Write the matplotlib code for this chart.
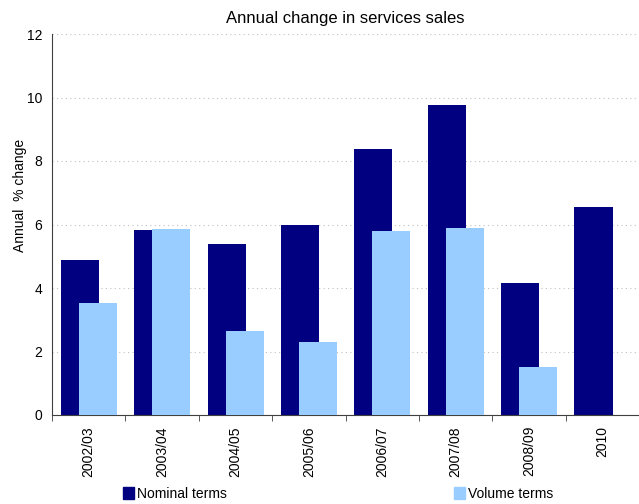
import matplotlib
matplotlib.use("Agg")
import matplotlib.pyplot as plt
import numpy as np
from matplotlib.patches import Patch

categories = ["2002/03", "2003/04", "2004/05", "2005/06", "2006/07", "2007/08", "2008/09", "2010"]
nominal = [4.88, 5.83, 5.39, 5.98, 8.38, 9.76, 4.16, 6.55]
volume = [3.54, 5.86, 2.65, 2.30, 5.80, 5.89, 1.51, np.nan]

plt.rcParams['font.family'] = ['Liberation Sans', 'DejaVu Sans']

fig = plt.figure(figsize=(6.39, 5.04), dpi=100)
ax = fig.add_axes([52/639, 1-415/504, 1-52/639, (415-34)/504])

x = np.arange(len(categories))
w = 0.52
ax.bar(x - 0.12, nominal, width=w, color='#000080', zorder=2, label='Nominal terms')
ax.bar(x + 0.125, volume, width=w, color='#99CCFF', zorder=3, label='Volume terms')

ax.set_xlim(-0.5, len(categories) - 0.5)
ax.set_ylim(0, 12)
ax.set_yticks(range(0, 13, 2))
ax.yaxis.grid(True, linestyle=(0, (1, 3)), color='#c0c0c0', linewidth=0.8, zorder=0)
ax.set_axisbelow(True)

ax.set_xticks(x)
ax.set_xticklabels(categories, rotation=90, fontsize=10)
ax.set_xticks(np.arange(-0.5, len(categories), 1), minor=True)
ax.tick_params(axis='x', which='major', length=0, pad=8)
ax.tick_params(axis='x', which='minor', length=4, color='#404040', direction='out')
ax.tick_params(axis='y', length=0, labelsize=10, pad=7)

for s in ['top', 'right']:
    ax.spines[s].set_visible(False)
ax.spines['left'].set_color('#404040')
ax.spines['bottom'].set_color('#404040')

ax.set_ylabel('Annual  % change', fontsize=10)
ax.yaxis.set_label_coords(-0.043, 0.577)
ax.set_title('Annual change in services sales', fontsize=12, pad=8)

handles = [Patch(color='#000080', label='Nominal terms'), Patch(color='#99CCFF', label='Volume terms')]
fig.legend(handles=handles, loc='center', bbox_to_anchor=(0.529, 0.02), ncol=2, frameon=False,
           fontsize=10, handlelength=0.8, handleheight=0.9, handletextpad=0.2, columnspacing=16.4,
           borderaxespad=0, borderpad=0)

fig.savefig('out.png', dpi=100)
